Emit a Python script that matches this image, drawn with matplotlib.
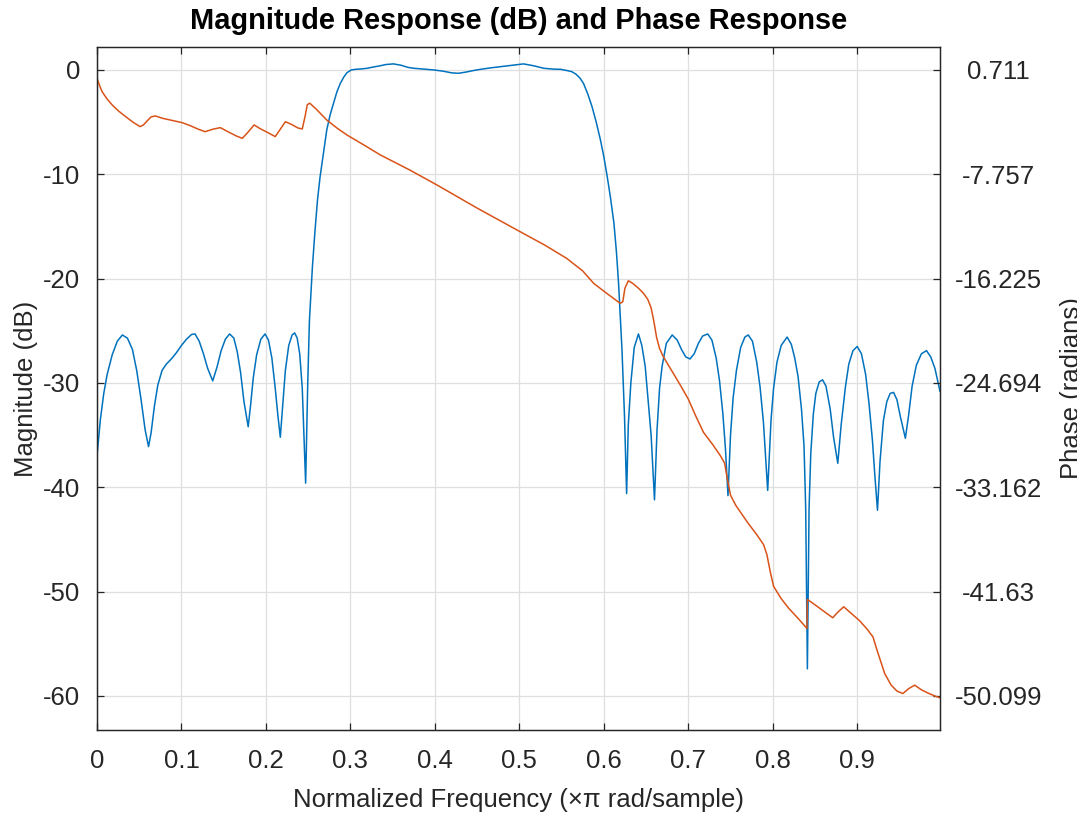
import matplotlib
matplotlib.use('Agg')
import matplotlib.pyplot as plt

MAG_COLOR = '#0072BD'    # MATLAB blue
PHASE_COLOR = '#D95319'  # MATLAB orange
TEXT_COLOR = '#262626'
GRID_COLOR = '#dfdfdf'

# magnitude response (x pi rad/sample, dB)
mag_freq = [
    0.000, 0.004, 0.008, 0.012, 0.018, 0.024, 0.030, 0.036, 0.042, 0.047,
    0.052, 0.057, 0.061, 0.064, 0.068, 0.072, 0.077, 0.082, 0.088, 0.094,
    0.100, 0.106, 0.112, 0.116, 0.121, 0.126, 0.131, 0.137, 0.142, 0.147,
    0.152, 0.157, 0.162, 0.166, 0.170, 0.174, 0.179, 0.182, 0.185, 0.189,
    0.194, 0.199, 0.203, 0.207, 0.211, 0.214, 0.217, 0.220, 0.223, 0.227,
    0.231, 0.234, 0.237, 0.240, 0.243, 0.247, 0.2495, 0.2515, 0.255, 0.258,
    0.261, 0.264, 0.267, 0.272, 0.276, 0.280, 0.284, 0.288, 0.292, 0.296,
    0.301, 0.306, 0.313, 0.320, 0.327, 0.334, 0.342, 0.351, 0.360, 0.368,
    0.375, 0.387, 0.399, 0.410, 0.420, 0.428, 0.437, 0.446, 0.454, 0.466,
    0.478, 0.490, 0.505, 0.517, 0.529, 0.540, 0.549, 0.556, 0.562, 0.567,
    0.572, 0.576, 0.581, 0.586, 0.591, 0.596, 0.600, 0.604, 0.608, 0.612,
    0.615, 0.6175, 0.6215, 0.6245, 0.627, 0.629, 0.632, 0.636, 0.641, 0.645,
    0.649, 0.652, 0.656, 0.660, 0.663, 0.666, 0.669, 0.674, 0.681, 0.687,
    0.692, 0.697, 0.702, 0.707, 0.712, 0.717, 0.723, 0.728, 0.733, 0.737,
    0.741, 0.744, 0.747, 0.750, 0.753, 0.757, 0.762, 0.767, 0.771, 0.776,
    0.781, 0.785, 0.789, 0.794, 0.798, 0.801, 0.805, 0.810, 0.817, 0.822,
    0.826, 0.830, 0.834, 0.837, 0.839, 0.841, 0.843, 0.845, 0.848, 0.851,
    0.855, 0.859, 0.863, 0.868, 0.872, 0.877, 0.881, 0.886, 0.890, 0.895,
    0.900, 0.905, 0.910, 0.914, 0.918, 0.921, 0.924, 0.927, 0.931, 0.935,
    0.939, 0.943, 0.947, 0.951, 0.957, 0.961, 0.965, 0.970, 0.976, 0.982,
    0.987, 0.992, 0.998,
]
mag_db = [
    -37.0, -33.5, -31.0, -29.2, -27.3, -26.0, -25.4, -25.7, -26.8, -28.8,
    -31.5, -34.5, -36.1, -34.8, -32.2, -30.2, -28.8, -28.2, -27.7, -27.1,
    -26.4, -25.8, -25.35, -25.3, -26.0, -27.2, -28.6, -29.8, -28.5, -26.9,
    -25.8, -25.3, -25.7, -27.0, -29.0, -31.8, -34.2, -32.0, -29.5, -27.3,
    -25.8, -25.3, -25.9, -27.6, -30.5, -33.0, -35.2, -32.0, -28.8, -26.4,
    -25.4, -25.2, -25.7, -27.2, -30.5, -39.6, -30.0, -24.0, -18.9, -15.5,
    -12.5, -10.3, -8.6, -5.75, -4.3, -3.2, -2.1, -1.3, -0.7, -0.26,
    0.0, 0.06, 0.1, 0.16, 0.28, 0.38, 0.52, 0.58, 0.45, 0.25,
    0.16, 0.08, 0.0, -0.12, -0.28, -0.32, -0.2, -0.05, 0.06, 0.2,
    0.32, 0.45, 0.58, 0.4, 0.16, 0.08, 0.06, -0.05, -0.16, -0.4,
    -0.8, -1.3, -2.3, -3.5, -5.0, -6.7, -8.3, -10.2, -12.3, -14.7,
    -17.5, -20.5, -26.8, -33.2, -40.6, -34.0, -30.0, -26.6, -25.3, -26.4,
    -28.4, -31.2, -35.0, -41.2, -34.5, -30.5, -28.4, -26.2, -25.4, -25.9,
    -26.8, -27.5, -27.7, -27.2, -26.2, -25.5, -25.3, -25.9, -27.6, -29.8,
    -33.0, -36.3, -40.8, -35.0, -31.5, -28.8, -26.6, -25.6, -25.4, -26.0,
    -28.0, -30.4, -33.8, -40.3, -33.5, -30.5, -28.0, -26.4, -25.6, -26.3,
    -27.6, -29.4, -32.5, -36.0, -42.0, -57.4, -42.0, -36.8, -33.0, -31.0,
    -29.9, -29.7, -30.3, -32.5, -35.2, -37.7, -34.0, -30.4, -28.2, -26.9,
    -26.5, -27.2, -29.2, -32.0, -35.5, -39.0, -42.2, -37.5, -33.6, -31.8,
    -31.0, -30.9, -31.6, -33.2, -35.3, -33.0, -30.3, -28.3, -27.2, -26.9,
    -27.5, -28.6, -30.8,
]

# phase response (x pi rad/sample, radians)
phase_freq = [
    0.000, 0.003, 0.006, 0.012, 0.018, 0.026, 0.034, 0.042, 0.051, 0.055,
    0.059, 0.064, 0.069, 0.078, 0.090, 0.101, 0.110, 0.120, 0.128, 0.137,
    0.146, 0.155, 0.165, 0.172, 0.178, 0.186, 0.193, 0.203, 0.211, 0.216,
    0.223, 0.230, 0.238, 0.243, 0.2465, 0.249, 0.252, 0.260, 0.272, 0.284,
    0.296, 0.316, 0.3355, 0.370, 0.4026, 0.450, 0.501, 0.530, 0.556, 0.575,
    0.588, 0.605, 0.6195, 0.6225, 0.625, 0.629, 0.634, 0.641, 0.647, 0.652,
    0.656, 0.659, 0.6625, 0.666, 0.670, 0.676, 0.690, 0.700, 0.709, 0.718,
    0.729, 0.738, 0.743, 0.746, 0.750, 0.756, 0.763, 0.771, 0.781, 0.789,
    0.793, 0.797, 0.801, 0.810, 0.819, 0.830, 0.8405, 0.841, 0.850, 0.860,
    0.871, 0.877, 0.884, 0.893, 0.903, 0.912, 0.9186, 0.924, 0.9325, 0.940,
    0.947, 0.954, 0.961, 0.968, 0.976, 0.985, 0.992, 0.998,
]
phase_rad = [
    0.05, -0.55, -1.05, -1.65, -2.13, -2.65, -3.08, -3.5, -3.89, -3.75,
    -3.45, -3.1, -3.02, -3.22, -3.4, -3.57, -3.8, -4.1, -4.30, -4.1,
    -3.97, -4.3, -4.65, -4.84, -4.4, -3.75, -4.05, -4.4, -4.70, -4.2,
    -3.49, -3.7, -4.0, -4.08, -3.0, -2.1, -1.99, -2.5, -3.35, -4.0,
    -4.57, -5.38, -6.19, -7.4, -8.63, -10.5, -12.42, -13.5, -14.58, -15.6,
    -16.61, -17.5, -18.23, -18.1, -17.0, -16.4, -16.6, -17.0, -17.42, -17.9,
    -18.6, -19.6, -21.0, -21.9, -22.5, -23.2, -24.8, -26.0, -27.4, -28.7,
    -29.7, -30.6, -31.2, -32.4, -33.8, -34.6, -35.3, -36.09, -37.0, -37.8,
    -38.6, -40.0, -41.2, -42.2, -42.99, -43.8, -44.62, -42.26, -42.7, -43.2,
    -43.75, -43.3, -42.86, -43.4, -44.0, -44.7, -45.3, -46.5, -48.27, -49.2,
    -49.7, -49.9, -49.5, -49.22, -49.6, -49.9, -50.1, -50.25,
]

mag_ticks = [-60, -50, -40, -30, -20, -10, 0]
phase_ticks = [-50.099, -41.63, -33.162, -24.694, -16.225, -7.757, 0.711]
phase_tick_labels = ['-50.099', '-41.63', '-33.162', '-24.694', '-16.225', '-7.757', '0.711']
freq_ticks = [0, 0.1, 0.2, 0.3, 0.4, 0.5, 0.6, 0.7, 0.8, 0.9]
freq_tick_labels = ['0', '0.1', '0.2', '0.3', '0.4', '0.5', '0.6', '0.7', '0.8', '0.9']

plt.rcParams['font.family'] = ['Liberation Sans', 'DejaVu Sans']
plt.rcParams['axes.unicode_minus'] = False
FONT_SIZE = 18.5

MAG_LIM = (-63.26, 2.2)
# phase axis is tied to the magnitude axis so the tick rows line up
PHASE_SCALE = (phase_ticks[-1] - phase_ticks[0]) / (mag_ticks[-1] - mag_ticks[0])
PHASE_OFFSET = phase_ticks[-1]


def make_figure():
    fig = plt.figure(figsize=(10.77, 8.15), dpi=100)
    ax = fig.add_axes([97 / 1077, 1 - 730 / 815, 843 / 1077, 683 / 815])
    ax2 = ax.twinx()

    ax.plot(mag_freq, mag_db, color=MAG_COLOR, lw=1.1, zorder=3)
    ax2.plot(phase_freq, phase_rad, color=PHASE_COLOR, lw=1.1)

    ax.set_xlim(0, 0.998)
    ax.set_ylim(*MAG_LIM)
    ax2.set_ylim(PHASE_OFFSET + PHASE_SCALE * MAG_LIM[0],
                 PHASE_OFFSET + PHASE_SCALE * MAG_LIM[1])

    ax.set_xticks(freq_ticks)
    ax.set_xticklabels(freq_tick_labels)
    ax.set_yticks(mag_ticks)
    ax2.set_yticks(phase_ticks)
    ax2.set_yticklabels(phase_tick_labels)
    for lab in ax2.get_yticklabels():
        lab.set_horizontalalignment('center')

    ax.grid(True, color=GRID_COLOR, lw=0.9)
    ax.set_axisbelow(True)

    ax.tick_params(axis='both', direction='in', length=5, width=0.9,
                   colors=TEXT_COLOR, labelsize=FONT_SIZE, top=True)
    ax.tick_params(axis='x', pad=14)
    ax.tick_params(axis='y', pad=12)
    ax2.tick_params(axis='y', direction='in', length=5, width=0.9,
                    colors=TEXT_COLOR, labelsize=FONT_SIZE, pad=42)
    for a in (ax, ax2):
        for sp in a.spines.values():
            sp.set_color(TEXT_COLOR)
            sp.set_linewidth(0.9)

    ax.set_xlabel('Normalized Frequency (\u00d7\u03c0 rad/sample)',
                  fontsize=FONT_SIZE, color=TEXT_COLOR)
    ax.set_ylabel('Magnitude (dB)', fontsize=FONT_SIZE, color=TEXT_COLOR)
    ax.yaxis.set_label_coords(-0.07, 0.5)
    ax.xaxis.set_label_coords(0.5, -0.085)
    # the reference cuts this label at the right border of the figure
    ax2.set_ylabel('Phase (radians)', fontsize=FONT_SIZE, color=TEXT_COLOR)
    ax2.yaxis.set_label_coords(1.142, 0.5)
    ax.set_title('Magnitude Response (dB) and Phase Response',
                 fontsize=FONT_SIZE * 1.13, fontweight='bold', color='black', pad=13)
    return fig


if __name__ == '__main__':
    fig = make_figure()
    fig.savefig('out.png', dpi=100)
